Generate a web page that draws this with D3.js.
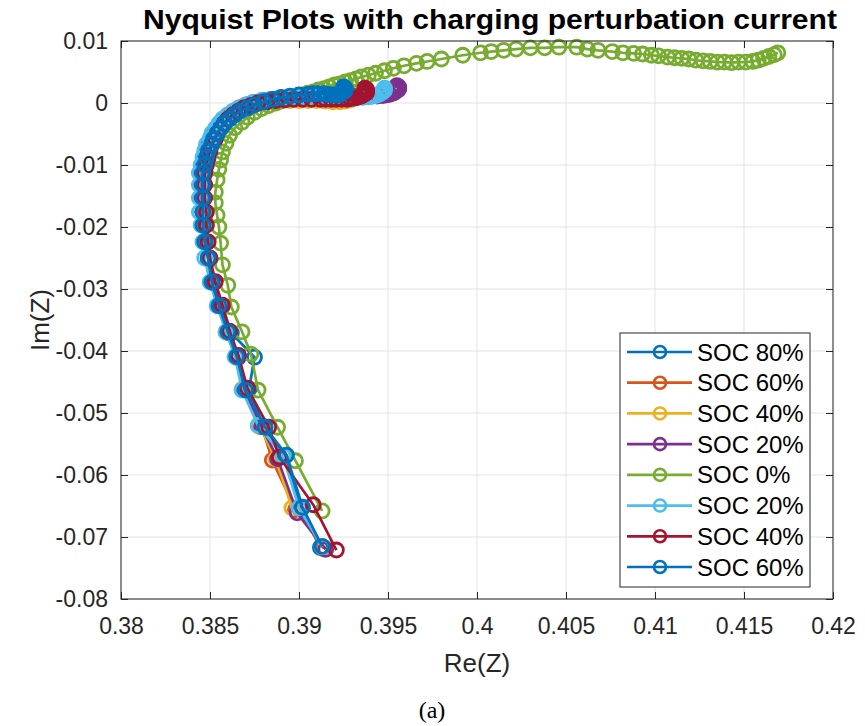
<!DOCTYPE html>
<html><head><meta charset="utf-8">
<script src="https://cdn.jsdelivr.net/npm/d3@7"></script>
<style>body{margin:0;background:#fff}svg{display:block}</style>
</head><body>
<svg id="c" width="865" height="726"></svg>
<script>
const legendLabels = ["SOC 80%","SOC 60%","SOC 40%","SOC 20%","SOC 0%","SOC 20%","SOC 40%","SOC 60%"];
const seriesColors = ["#0072BD","#D95319","#EDB120","#7E2F8E","#77AC30","#4DBEEE","#A2142F","#0072BD"];
const xTicks = [0.38,0.385,0.39,0.395,0.4,0.405,0.41,0.415,0.42];
const yTicks = [0.01,0,-0.01,-0.02,-0.03,-0.04,-0.05,-0.06,-0.07,-0.08];

const re_s1 = [0.3912,0.3901,0.3892,0.3880,0.3872,0.3875,0.3862,0.3857,0.3852,0.3850,0.3848,0.3847,0.3847,0.3846,0.3846,0.3846,0.3847,0.3848,0.3849,0.3850,0.3852,0.3853,0.3855,0.3857,0.3859,0.3862,0.3865,0.3868,0.3872,0.3876,0.3881,0.3886,0.3891,0.3896,0.3901,0.3906,0.3911,0.3915,0.3918,0.3920,0.3921,0.3921];
const im_s1 = [-0.0717,-0.0655,-0.0570,-0.0522,-0.0461,-0.0410,-0.0371,-0.0328,-0.0290,-0.0252,-0.0225,-0.0198,-0.0177,-0.0154,-0.0133,-0.0114,-0.0101,-0.0089,-0.0078,-0.0068,-0.0059,-0.0050,-0.0042,-0.0034,-0.0027,-0.0020,-0.0014,-0.0009,-0.0004,0.0000,0.0003,0.0005,0.0007,0.0008,0.0009,0.0009,0.0009,0.0009,0.0010,0.0012,0.0015,0.0018];

const re_s2 = [0.3914,0.3898,0.3885,0.3879,0.3869,0.3866,0.3860,0.3856,0.3851,0.3849,0.3847,0.3846,0.3846,0.3845,0.3845,0.3845,0.3846,0.3847,0.3848,0.3849,0.3851,0.3852,0.3854,0.3856,0.3858,0.3861,0.3864,0.3867,0.3871,0.3875,0.3880,0.3885,0.3890,0.3895,0.3900,0.3905,0.3910,0.3914,0.3918,0.3921,0.3923,0.3924,0.3924];
const im_s2 = [-0.0719,-0.0656,-0.0576,-0.0521,-0.0462,-0.0409,-0.0370,-0.0327,-0.0289,-0.0251,-0.0224,-0.0197,-0.0176,-0.0153,-0.0132,-0.0113,-0.0100,-0.0088,-0.0077,-0.0067,-0.0058,-0.0049,-0.0041,-0.0033,-0.0026,-0.0019,-0.0013,-0.0008,-0.0003,0.0001,0.0003,0.0005,0.0006,0.0006,0.0006,0.0006,0.0005,0.0004,0.0004,0.0006,0.0009,0.0013,0.0017];

const re_s3 = [0.3915,0.3896,0.3887,0.3878,0.3868,0.3865,0.3859,0.3855,0.3851,0.3849,0.3847,0.3846,0.3846,0.3845,0.3845,0.3845,0.3846,0.3847,0.3848,0.3849,0.3851,0.3852,0.3854,0.3856,0.3858,0.3861,0.3864,0.3867,0.3871,0.3875,0.3880,0.3885,0.3890,0.3895,0.3900,0.3905,0.3910,0.3915,0.3919,0.3923,0.3926,0.3929,0.3931,0.3932];
const im_s3 = [-0.0718,-0.0653,-0.0574,-0.0522,-0.0462,-0.0411,-0.0370,-0.0327,-0.0289,-0.0251,-0.0224,-0.0197,-0.0176,-0.0153,-0.0132,-0.0113,-0.0100,-0.0088,-0.0077,-0.0067,-0.0058,-0.0049,-0.0041,-0.0033,-0.0026,-0.0019,-0.0013,-0.0008,-0.0004,0.0000,0.0002,0.0003,0.0004,0.0004,0.0004,0.0004,0.0004,0.0003,0.0002,0.0002,0.0003,0.0005,0.0008,0.0012];

const re_s4 = [0.3915,0.3899,0.3888,0.3879,0.3869,0.3866,0.3860,0.3856,0.3852,0.3849,0.3847,0.3846,0.3846,0.3845,0.3845,0.3845,0.3846,0.3847,0.3848,0.3849,0.3851,0.3852,0.3854,0.3856,0.3858,0.3861,0.3864,0.3867,0.3871,0.3875,0.3880,0.3885,0.3890,0.3895,0.3900,0.3905,0.3910,0.3915,0.3920,0.3925,0.3930,0.3934,0.3938,0.3941,0.3944,0.3947,0.3949,0.3951,0.3953,0.3954,0.3955,0.3956,0.3956,0.3956,0.3955];
const im_s4 = [-0.0720,-0.0661,-0.0574,-0.0522,-0.0462,-0.0410,-0.0370,-0.0327,-0.0289,-0.0251,-0.0224,-0.0197,-0.0176,-0.0153,-0.0132,-0.0113,-0.0100,-0.0088,-0.0077,-0.0067,-0.0058,-0.0049,-0.0041,-0.0033,-0.0026,-0.0019,-0.0013,-0.0008,-0.0003,0.0001,0.0004,0.0006,0.0008,0.0009,0.0010,0.0011,0.0011,0.0011,0.0011,0.0011,0.0011,0.0011,0.0011,0.0011,0.0011,0.0012,0.0013,0.0014,0.0016,0.0018,0.0020,0.0022,0.0024,0.0026,0.0028];

const re_s5 = [0.3913,0.3898,0.3888,0.3877,0.3873,0.3868,0.3862,0.3860,0.3857,0.3856,0.3855,0.3854,0.3853,0.3853,0.3854,0.3855,0.3856,0.3857,0.3859,0.3861,0.3864,0.3868,0.3871,0.3875,0.3879,0.3883,0.3887,0.3890,0.3893,0.3896,0.3899,0.3902,0.3905,0.3908,0.3911,0.3914,0.3917,0.3920,0.3923,0.3926,0.3929,0.3932,0.3935,0.3939,0.3943,0.3948,0.3953,0.3959,0.3966,0.3972,0.3980,0.3992,0.4002,0.4008,0.4015,0.4022,0.4030,0.4038,0.4046,0.4056,0.4062,0.4068,0.4076,0.4082,0.4088,0.4093,0.4098,0.4102,0.4107,0.4111,0.4115,0.4119,0.4123,0.4127,0.4131,0.4135,0.4139,0.4143,0.4147,0.4151,0.4155,0.4158,0.4161,0.4164,0.4167,0.4169];
const im_s5 = [-0.0658,-0.0577,-0.0523,-0.0463,-0.0405,-0.0369,-0.0329,-0.0294,-0.0261,-0.0226,-0.0200,-0.0181,-0.0161,-0.0144,-0.0124,-0.0107,-0.0092,-0.0079,-0.0065,-0.0052,-0.0040,-0.0031,-0.0023,-0.0015,-0.0009,-0.0004,0.0000,0.0003,0.0005,0.0008,0.0010,0.0013,0.0016,0.0018,0.0021,0.0023,0.0026,0.0029,0.0031,0.0034,0.0036,0.0039,0.0042,0.0045,0.0048,0.0052,0.0056,0.0060,0.0064,0.0067,0.0071,0.0077,0.0081,0.0083,0.0085,0.0087,0.0089,0.0089,0.0090,0.0090,0.0087,0.0085,0.0083,0.0081,0.0080,0.0079,0.0077,0.0076,0.0074,0.0073,0.0072,0.0071,0.0069,0.0068,0.0067,0.0066,0.0066,0.0065,0.0066,0.0066,0.0067,0.0069,0.0072,0.0075,0.0078,0.0081];

const re_s6 = [0.3913,0.3900,0.3891,0.3877,0.3868,0.3864,0.3859,0.3854,0.3850,0.3847,0.3846,0.3845,0.3844,0.3844,0.3844,0.3844,0.3845,0.3846,0.3847,0.3848,0.3850,0.3851,0.3853,0.3855,0.3857,0.3860,0.3863,0.3866,0.3870,0.3874,0.3879,0.3884,0.3889,0.3894,0.3899,0.3904,0.3909,0.3914,0.3918,0.3922,0.3926,0.3930,0.3933,0.3936,0.3939,0.3941,0.3943,0.3945,0.3946,0.3947,0.3948,0.3948,0.3948];
const im_s6 = [-0.0716,-0.0653,-0.0569,-0.0520,-0.0463,-0.0409,-0.0369,-0.0327,-0.0289,-0.0250,-0.0224,-0.0197,-0.0176,-0.0153,-0.0132,-0.0113,-0.0100,-0.0088,-0.0077,-0.0067,-0.0058,-0.0049,-0.0041,-0.0033,-0.0026,-0.0019,-0.0013,-0.0008,-0.0003,0.0001,0.0004,0.0006,0.0008,0.0009,0.0010,0.0010,0.0010,0.0010,0.0010,0.0009,0.0009,0.0009,0.0009,0.0009,0.0010,0.0011,0.0012,0.0014,0.0016,0.0018,0.0020,0.0022,0.0024];

const re_s7 = [0.3921,0.3908,0.3889,0.3883,0.3871,0.3866,0.3861,0.3857,0.3853,0.3850,0.3849,0.3848,0.3848,0.3847,0.3847,0.3847,0.3848,0.3849,0.3850,0.3851,0.3853,0.3854,0.3856,0.3858,0.3860,0.3863,0.3866,0.3869,0.3873,0.3877,0.3882,0.3887,0.3892,0.3897,0.3902,0.3907,0.3912,0.3915,0.3918,0.3921,0.3924,0.3927,0.3929,0.3931,0.3933,0.3935,0.3936,0.3937,0.3938,0.3938,0.3938,0.3937];
const im_s7 = [-0.0721,-0.0648,-0.0571,-0.0523,-0.0460,-0.0407,-0.0368,-0.0326,-0.0288,-0.0250,-0.0224,-0.0197,-0.0176,-0.0153,-0.0132,-0.0113,-0.0100,-0.0088,-0.0077,-0.0067,-0.0058,-0.0049,-0.0041,-0.0033,-0.0026,-0.0019,-0.0013,-0.0008,-0.0004,0.0000,0.0002,0.0004,0.0005,0.0006,0.0006,0.0006,0.0006,0.0006,0.0006,0.0006,0.0006,0.0006,0.0007,0.0008,0.0009,0.0011,0.0013,0.0015,0.0017,0.0019,0.0022,0.0024];

const re_s8 = [0.3913,0.3902,0.3893,0.3881,0.3870,0.3865,0.3860,0.3855,0.3851,0.3849,0.3847,0.3846,0.3846,0.3846,0.3846,0.3846,0.3847,0.3848,0.3849,0.3851,0.3852,0.3854,0.3856,0.3858,0.3861,0.3864,0.3867,0.3871,0.3875,0.3880,0.3885,0.3890,0.3895,0.3900,0.3905,0.3908,0.3911,0.3914,0.3916,0.3918,0.3920,0.3922,0.3923,0.3924,0.3925,0.3926,0.3926,0.3926,0.3925];
const im_s8 = [-0.0715,-0.0652,-0.0568,-0.0523,-0.0463,-0.0409,-0.0369,-0.0327,-0.0289,-0.0250,-0.0224,-0.0197,-0.0176,-0.0153,-0.0132,-0.0113,-0.0100,-0.0088,-0.0077,-0.0067,-0.0058,-0.0049,-0.0041,-0.0033,-0.0026,-0.0019,-0.0013,-0.0008,-0.0003,0.0002,0.0006,0.0009,0.0011,0.0013,0.0014,0.0015,0.0015,0.0015,0.0014,0.0013,0.0013,0.0013,0.0014,0.0016,0.0018,0.0020,0.0022,0.0024,0.0026];

const reAll = [re_s1,re_s2,re_s3,re_s4,re_s5,re_s6,re_s7,re_s8];
const imAll = [im_s1,im_s2,im_s3,im_s4,im_s5,im_s6,im_s7,im_s8];
const series = reAll.map((re,i)=>({label:legendLabels[i],color:seriesColors[i],pts:d3.zip(re,imAll[i])}));

const svg = d3.select("#c");
const L=121,R=833,T=41,B=599;
const x = d3.scaleLinear().domain([0.38,0.42]).range([L,R]);
const y = d3.scaleLinear().domain([-0.08,0.01]).range([B,T]);
const axisCol = "#262626";
const font = "'Liberation Sans', Arial, Helvetica, sans-serif";
const fmt = v => (v<0?"-":"") + d3.format("")(Math.abs(+v.toFixed(4)));

// grid
const g = svg.append("g");
g.selectAll(".gx").data(xTicks).join("line").attr("x1",d=>x(d)).attr("x2",d=>x(d)).attr("y1",T).attr("y2",B).attr("stroke","#e3e3e3").attr("stroke-width",1);
g.selectAll(".gy").data(yTicks).join("line").attr("y1",d=>y(d)).attr("y2",d=>y(d)).attr("x1",L).attr("x2",R).attr("stroke","#e3e3e3").attr("stroke-width",1);

// axes via d3
const tl = 7;
svg.append("g").attr("transform",`translate(0,${B})`).call(d3.axisBottom(x).tickValues(xTicks).tickSizeInner(-tl).tickSizeOuter(0).tickPadding(19).tickFormat(fmt))
  .call(s=>{s.select(".domain").remove();s.selectAll("line").attr("stroke",axisCol);s.selectAll("text").attr("fill",axisCol).style("font-family",font).style("font-size","23px");});
svg.append("g").attr("transform",`translate(0,${T})`).call(d3.axisTop(x).tickValues(xTicks).tickSizeInner(-tl).tickSizeOuter(0).tickFormat(""))
  .call(s=>{s.select(".domain").remove();s.selectAll("line").attr("stroke",axisCol);});
svg.append("g").attr("transform",`translate(${L},0)`).call(d3.axisLeft(y).tickValues(yTicks).tickSizeInner(-tl).tickSizeOuter(0).tickPadding(13).tickFormat(fmt))
  .call(s=>{s.select(".domain").remove();s.selectAll("line").attr("stroke",axisCol);s.selectAll("text").attr("fill",axisCol).style("font-family",font).style("font-size","23px");});
svg.append("g").attr("transform",`translate(${R},0)`).call(d3.axisRight(y).tickValues(yTicks).tickSizeInner(-tl).tickSizeOuter(0).tickFormat(""))
  .call(s=>{s.select(".domain").remove();s.selectAll("line").attr("stroke",axisCol);});

// data
const line = d3.line().x(d=>x(d[0])).y(d=>y(d[1]));
const dg = svg.append("g");
series.forEach(s=>{
  const sg = dg.append("g");
  sg.append("path").attr("d",line(s.pts)).attr("fill","none").attr("stroke",s.color).attr("stroke-width",2.7).attr("stroke-linejoin","round");
  sg.selectAll("circle").data(s.pts).join("circle").attr("cx",d=>x(d[0])).attr("cy",d=>y(d[1])).attr("r",7).attr("fill","none").attr("stroke",s.color).attr("stroke-width",2.8);
});

// frame
svg.append("rect").attr("x",L).attr("y",T).attr("width",R-L).attr("height",B-T).attr("fill","none").attr("stroke",axisCol).attr("stroke-width",1);

// title & labels
svg.append("text").attr("x",(L+R)/2+13).attr("y",29).attr("text-anchor","middle").style("font-family",font).style("font-weight","bold").style("font-size","28px").attr("textLength",694).attr("lengthAdjust","spacingAndGlyphs").text("Nyquist Plots with charging perturbation current");
svg.append("text").attr("x",(L+R)/2).attr("y",672).attr("text-anchor","middle").attr("fill",axisCol).style("font-family",font).style("font-size","26px").text("Re(Z)");
svg.append("text").attr("transform",`translate(49,${(T+B)/2}) rotate(-90)`).attr("text-anchor","middle").attr("fill",axisCol).style("font-family",font).style("font-size","26px").text("Im(Z)");
svg.append("text").attr("x",432).attr("y",718).attr("text-anchor","middle").style("font-family","'Liberation Serif','DejaVu Serif',serif").style("font-size","24px").text("(a)");

// legend
const lg = svg.append("g");
lg.append("rect").attr("x",620).attr("y",333).attr("width",190).attr("height",254).attr("fill","#fff").attr("stroke",axisCol).attr("stroke-width",1);
const ly = d3.scalePoint().domain(d3.range(8)).range([352,567]);
series.forEach((s,i)=>{
  const yy = ly(i);
  lg.append("line").attr("x1",627).attr("x2",692).attr("y1",yy).attr("y2",yy).attr("stroke",s.color).attr("stroke-width",2.7);
  lg.append("circle").attr("cx",660).attr("cy",yy).attr("r",6).attr("fill","none").attr("stroke",s.color).attr("stroke-width",2.6);
  lg.append("text").attr("x",697).attr("y",yy).attr("dy","0.36em").style("font-family",font).style("font-size","24px").text(s.label);
});
</script>
</body></html>
